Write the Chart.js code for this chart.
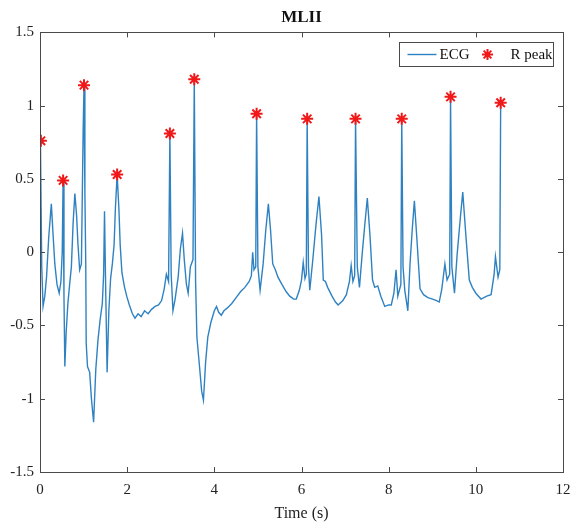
<!DOCTYPE html>
<html>
<head>
<meta charset="utf-8">
<script src="https://cdn.jsdelivr.net/npm/chart.js@4.4.1/dist/chart.umd.min.js"></script>
<style>
html,body{margin:0;padding:0;background:#fff;}
#wrap{width:571px;height:523px;position:relative;}
</style>
</head>
<body>
<div id="wrap"><canvas id="c"></canvas></div>
<script>
// ---- data ----
const chartTitle = "MLII";
const xAxisTitle = "Time (s)";
const seriesNames = ["ECG", "R peak"];
const xTicks = [0, 2, 4, 6, 8, 10, 12];
const yTicks = [-1.5, -1, -0.5, 0, 0.5, 1, 1.5];

const ecgTime = [
  0.00,0.01,0.04,0.07,0.11,0.15,0.20,0.26,0.30,0.34,0.39,0.44,0.48,0.51,0.53,0.55,0.57,0.60,0.64,0.68,
  0.72,0.76,0.80,0.84,0.87,0.91,0.95,0.99,1.01,1.03,1.05,1.06,1.09,1.14,1.18,1.23,1.28,1.33,1.38,1.43,
  1.46,1.48,1.51,1.54,1.58,1.62,1.66,1.70,1.73,1.77,1.81,1.84,1.88,1.94,1.99,2.05,2.12,2.18,2.25,2.32,
  2.40,2.48,2.56,2.64,2.72,2.79,2.85,2.90,2.95,2.98,3.01,3.05,3.10,3.17,3.22,3.27,3.31,3.36,3.40,3.45,
  3.51,3.54,3.57,3.60,3.66,3.71,3.75,3.80,3.85,3.92,4.00,4.05,4.10,4.16,4.22,4.30,4.40,4.50,4.60,4.70,
  4.80,4.85,4.88,4.91,4.95,4.97,5.00,5.05,5.12,5.18,5.24,5.29,5.34,5.40,5.46,5.55,5.65,5.73,5.82,5.88,
  5.95,6.00,6.04,6.08,6.11,6.13,6.16,6.19,6.26,6.33,6.40,6.46,6.50,6.55,6.60,6.70,6.78,6.84,6.95,7.03,
  7.10,7.14,7.18,7.22,7.24,7.28,7.33,7.39,7.45,7.51,7.57,7.63,7.68,7.75,7.82,7.91,8.00,8.06,8.12,8.17,
  8.21,8.28,8.30,8.33,8.37,8.44,8.49,8.54,8.59,8.65,8.72,8.80,8.90,9.01,9.10,9.16,9.22,9.29,9.34,9.40,
  9.42,9.45,9.51,9.57,9.64,9.70,9.77,9.85,9.92,10.00,10.12,10.25,10.35,10.42,10.45,10.51,10.55,10.57
];
const ecgValue = [
  0.20,0.76,-0.10,-0.37,-0.30,-0.17,0.10,0.33,0.12,-0.08,-0.22,-0.28,-0.20,0.00,0.49,-0.30,-0.78,-0.55,-0.35,-0.22,
  -0.10,0.20,0.40,0.25,0.06,-0.12,-0.08,0.83,1.14,0.40,-0.08,-0.62,-0.78,-0.82,-1.00,-1.16,-0.80,-0.60,-0.46,-0.35,
  -0.15,0.28,-0.30,-0.82,-0.40,-0.18,-0.08,0.05,0.30,0.53,0.30,0.05,-0.14,-0.24,-0.30,-0.36,-0.42,-0.45,-0.42,-0.44,
  -0.40,-0.42,-0.39,-0.37,-0.36,-0.33,-0.25,-0.15,-0.20,0.81,-0.15,-0.40,-0.32,-0.17,0.02,0.13,-0.05,-0.22,-0.28,-0.10,
  -0.05,1.18,-0.20,-0.58,-0.78,-0.95,-1.01,-0.75,-0.58,-0.48,-0.40,-0.37,-0.41,-0.43,-0.40,-0.38,-0.35,-0.31,-0.27,-0.24,
  -0.20,-0.16,0.00,-0.12,-0.10,0.945,-0.10,-0.26,-0.08,0.15,0.33,0.15,-0.08,-0.12,-0.17,-0.22,-0.27,-0.30,-0.32,-0.32,
  -0.26,-0.19,-0.07,-0.18,-0.15,0.91,-0.10,-0.26,-0.05,0.18,0.38,0.12,-0.19,-0.20,-0.24,-0.30,-0.34,-0.36,-0.33,-0.29,
  -0.20,-0.09,-0.20,-0.16,0.91,-0.10,-0.24,-0.02,0.18,0.37,0.12,-0.19,-0.24,-0.23,-0.30,-0.37,-0.36,-0.36,-0.28,-0.12,
  -0.30,-0.22,0.91,-0.10,-0.26,-0.40,-0.08,0.15,0.35,0.08,-0.25,-0.29,-0.31,-0.32,-0.33,-0.34,-0.25,-0.08,-0.19,-0.15,
  1.06,-0.10,-0.28,-0.02,0.22,0.41,0.12,-0.19,-0.24,-0.28,-0.32,-0.30,-0.29,-0.15,-0.03,-0.17,-0.12,1.02
];
const peakTime  = [0.02, 0.53, 1.01, 1.77, 2.98, 3.54, 4.97, 6.13, 7.24, 8.30, 9.42, 10.57];
const peakValue = [0.76, 0.49, 1.14, 0.53, 0.81, 1.18, 0.945, 0.91, 0.91, 0.91, 1.06, 1.02];

// ---- build ----
const ecgPoints = ecgTime.map((t, i) => ({x: t, y: ecgValue[i]}));
const peakPoints = peakTime.map((t, i) => ({x: t, y: peakValue[i]}));

const FONT = "'Liberation Serif', 'Times New Roman', serif";
const AXIS = '#4a4a4a';
const LINE = '#2f82c2';
const STAR = '#f01818';

function drawStar(ctx, x, y, r, color, lw) {
  ctx.save();
  ctx.strokeStyle = color;
  ctx.lineWidth = lw;
  ctx.beginPath();
  for (let k = 0; k < 4; k++) {
    const a = k * Math.PI / 4;
    ctx.moveTo(x - r * Math.cos(a), y - r * Math.sin(a));
    ctx.lineTo(x + r * Math.cos(a), y + r * Math.sin(a));
  }
  ctx.stroke();
  ctx.restore();
}

const boxPlugin = {
  id: 'matlabBox',
  afterDraw(chart) {
    const {ctx, chartArea: a, scales} = chart;
    ctx.save();
    ctx.strokeStyle = AXIS;
    ctx.lineWidth = 1;
    ctx.strokeRect(Math.round(a.left) + 0.5, Math.round(a.top) + 0.5,
                   Math.round(a.right - a.left), Math.round(a.bottom - a.top));
    const tl = 5;
    ctx.beginPath();
    xTicks.forEach(v => {
      const px = Math.round(scales.x.getPixelForValue(v)) + 0.5;
      ctx.moveTo(px, a.bottom); ctx.lineTo(px, a.bottom - tl);
      ctx.moveTo(px, a.top); ctx.lineTo(px, a.top + tl);
    });
    yTicks.forEach(v => {
      const py = Math.round(scales.y.getPixelForValue(v)) + 0.5;
      ctx.moveTo(a.left, py); ctx.lineTo(a.left + tl, py);
      ctx.moveTo(a.right, py); ctx.lineTo(a.right - tl, py);
    });
    ctx.stroke();

    // legend box
    const bw = 154, bh = 24;
    const bx = Math.round(a.right - 10 - bw) + 0.5;
    const by = Math.round(a.top + 10) + 0.5;
    ctx.fillStyle = '#fff';
    ctx.fillRect(bx, by, bw, bh);
    ctx.strokeStyle = AXIS;
    ctx.strokeRect(bx, by, bw, bh);
    const cy = by + bh / 2;
    ctx.strokeStyle = LINE;
    ctx.lineWidth = 1.4;
    ctx.beginPath();
    ctx.moveTo(bx + 8, cy); ctx.lineTo(bx + 37, cy);
    ctx.stroke();
    ctx.fillStyle = '#111';
    ctx.font = '15px ' + FONT;
    ctx.textBaseline = 'middle';
    ctx.textAlign = 'left';
    ctx.fillText(seriesNames[0], bx + 40, cy + 1);
    drawStar(ctx, bx + 88, cy, 5.5, STAR, 2);
    ctx.fillText(seriesNames[1], bx + 111, cy + 1);
    ctx.restore();
  }
};

new Chart(document.getElementById('c'), {
  type: 'line',
  data: {
    datasets: [
      {
        label: seriesNames[0],
        data: ecgPoints,
        borderColor: LINE,
        borderWidth: 1.4,
        pointRadius: 0,
        tension: 0,
        fill: false,
        order: 2
      },
      {
        label: seriesNames[1],
        data: peakPoints,
        showLine: false,
        pointStyle: 'star',
        pointRadius: 6,
        pointBorderWidth: 2,
        pointBorderColor: STAR,
        pointBackgroundColor: STAR,
        order: 1
      }
    ]
  },
  options: {
    responsive: true,
    maintainAspectRatio: false,
    animation: false,
    layout: {padding: {left: 0, right: 7, top: 0, bottom: 0}},
    plugins: {
      legend: {display: false},
      tooltip: {enabled: false},
      title: {
        display: true,
        fullSize: false,
        text: chartTitle,
        color: '#111',
        font: {family: FONT, size: 17, weight: 'bold'},
        padding: {top: 7, bottom: 5}
      }
    },
    scales: {
      x: {
        type: 'linear',
        min: 0, max: 12,
        afterBuildTicks: s => { s.ticks = xTicks.map(v => ({value: v})); },
        afterFit: s => { s.height = 51; s.paddingLeft = 0; s.paddingRight = 0; },
        grid: {display: false, drawTicks: false},
        border: {display: false},
        ticks: {color: '#222', font: {family: FONT, size: 15}, padding: 9, maxRotation: 0,
                callback: v => String(v)},
        title: {display: true, text: xAxisTitle, color: '#222', font: {family: FONT, size: 16}, padding: {top: 0, bottom: 0}}
      },
      y: {
        type: 'linear',
        min: -1.5, max: 1.5,
        afterBuildTicks: s => { s.ticks = yTicks.map(v => ({value: v})); },
        afterFit: s => { s.width = 40; },
        grid: {display: false, drawTicks: false},
        border: {display: false},
        ticks: {color: '#222', font: {family: FONT, size: 15}, padding: 6,
                callback: v => String(v)}
      }
    }
  },
  plugins: [boxPlugin]
});
</script>
</body>
</html>
